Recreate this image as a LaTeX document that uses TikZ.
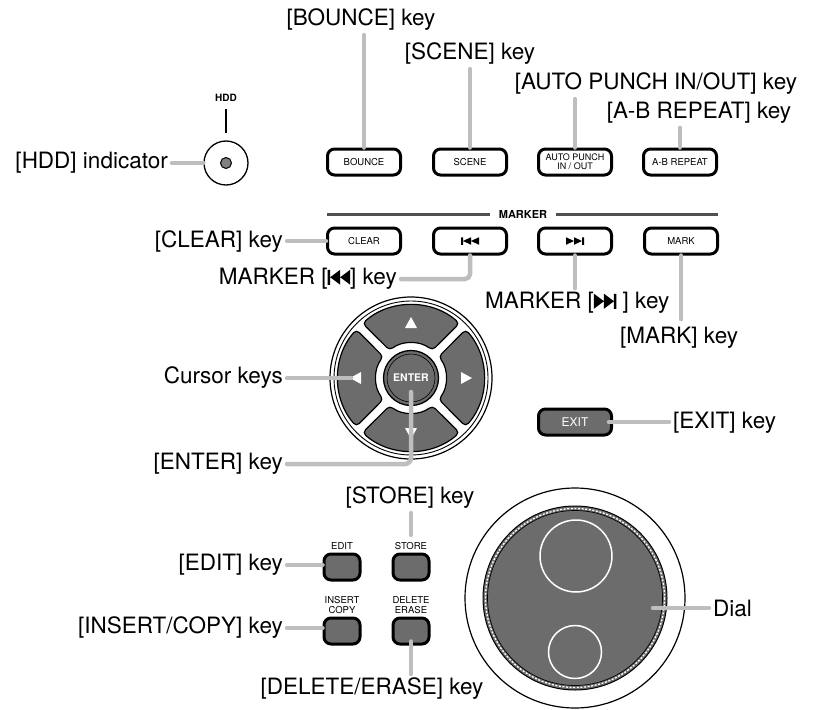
\documentclass[tikz,border=0pt]{standalone}
\usepackage{fontspec}
\setmainfont{TeX Gyre Heros}
\usetikzlibrary{calc}
\definecolor{keygray}{RGB}{108,108,108}
\definecolor{leadgray}{RGB}{190,190,190}
\definecolor{rulegray}{RGB}{80,80,80}

% skip symbols: #1 height, #2 triangle width
\newcommand{\prevglyph}[2]{\tikz[baseline=0pt,x=1pt,y=1pt,sharp corners]{\fill[black] (0,0) rectangle (0.25*#2,#1) (0.25*#2,0.5*#1) -- (1.25*#2,#1) -- (1.25*#2,0) -- cycle (1.25*#2,0.5*#1) -- (2.25*#2,#1) -- (2.25*#2,0) -- cycle;}}
\newcommand{\nextglyph}[2]{\tikz[baseline=0pt,x=1pt,y=1pt,sharp corners]{\fill[black] (0,0) -- (#2,0.5*#1) -- (0,#1) -- cycle (#2,0) -- (2*#2,0.5*#1) -- (#2,#1) -- cycle (2*#2,0) rectangle (2.25*#2,#1);}}

\tikzset{
  lbl/.style={font=\fontsize{22.5}{25}\selectfont, inner sep=4pt},
  keyw/.style={draw, line width=3pt, rounded corners=7pt, fill=white, minimum width=73pt, minimum height=26pt, inner sep=0pt, font=\fontsize{9.5}{9.5}\selectfont, align=center},
  keyd/.style={keyw, fill=keygray, text=white},
  keysm/.style={keyd, minimum width=36pt, minimum height=26pt},
  capt/.style={font=\fontsize{9.5}{10}\selectfont, align=center, inner sep=0pt},
  lead/.style={draw=leadgray, line width=4.5pt, line cap=round},
}

\begin{document}
\begin{tikzpicture}[x=1pt,y=-1pt]
  \useasboundingbox (0,0) rectangle (813,709);

  % HDD indicator
  \node[font=\fontsize{10}{12}\selectfont\bfseries] (hddtxt) at (226,98) {HDD};
  \node[circle, draw, line width=1.3pt, minimum size=44pt, inner sep=0pt] (hdd) at (226,163) {};
  \node[circle, draw, line width=1pt, fill=gray, minimum size=11pt, inner sep=0pt] (hdddot) at (hdd.center) {};
  \draw[line width=1.3pt, shorten <=4pt, shorten >=7pt] (hddtxt.south) -- (hdd.north);
  \node[lbl, anchor=east] (hddlbl) at (172,163) {[HDD] indicator};
  \draw[lead] (hddlbl.east) -- (hdd.west);

  % top row
  \node[keyw] (bounce) at (364,162) {BOUNCE};
  \node[keyw] (scene) at (470,162) {SCENE};
  \node[keyw, font=\fontsize{9}{9}\selectfont] (autopunch) at (575,162) {AUTO PUNCH\\IN / OUT};
  \node[keyw] (abrepeat) at (680,162) {A-B REPEAT};
  \node[lbl] (bouncelbl) at (361,20) {[BOUNCE] key};
  \node[lbl] (scenelbl) at (470,54) {[SCENE] key};
  \node[lbl] (autolbl) at (656,84) {[AUTO PUNCH IN/OUT] key};
  \node[lbl] (ablbl) at (699,113) {[A-B REPEAT] key};
  \draw[lead] (bouncelbl.south -| bounce.north) -- (bounce.north);
  \draw[lead] (scenelbl.south -| scene.north) -- (scene.north);
  \draw[lead] (autolbl.south -| autopunch.north) -- (autopunch.north);
  \draw[lead] (ablbl.south -| abrepeat.north) -- (abrepeat.north);

  % marker row
  \node[font=\fontsize{11}{12}\selectfont\bfseries, inner xsep=9pt] (markertxt) at (523,214) {MARKER};
  \draw[rulegray, line width=3pt] (327,214) -- (markertxt.west) (markertxt.east) -- (718,214);
  \node[keyw] (clear) at (364,241) {CLEAR};
  \node[keyw] (prevmk) at (470,241) {\prevglyph{7.5}{8}};
  \node[keyw] (nextmk) at (575,241) {\nextglyph{7.5}{8}};
  \node[keyw] (mark) at (681,241) {MARK};
  \node[lbl, anchor=east] (clearlbl) at (287,242) {[CLEAR] key};
  \node[lbl, anchor=east] (prevlbl) at (401,279) {MARKER [\prevglyph{15}{10}] key};
  \node[lbl, anchor=west] (nextlbl) at (481,303) {MARKER [\nextglyph{15}{10} ] key};
  \node[lbl, anchor=west] (marklbl) at (616,338) {[MARK] key};
  \draw[lead] (clearlbl.east |- clear.west) -- (clear.west);
  \draw[lead, rounded corners=5pt] (prevlbl.east) -| (prevmk.south);
  \draw[lead] (nextmk.south) -- (nextmk.south |- nextlbl.north);
  \draw[lead, shorten >=4pt] (mark.south) -- (mark.south |- marklbl.north);

  % cursor pad
  \coordinate (pad) at (411,378);
  \draw[line width=1.2pt] (pad) circle[radius=81];
  \draw[line width=0.9pt] (pad) circle[radius=77];
  \begin{scope}[shift={(pad)}, yscale=-1]
    \foreach \a in {0,90,180,270}{
      \draw[line width=1.2pt, fill=keygray, rounded corners=4pt, rotate=\a] (48.5:73) arc[start angle=48.5, end angle=131.5, radius=73] -- (127.6:35) arc[start angle=127.6, end angle=52.4, radius=35] -- cycle;
      \fill[white, rotate=\a] (-6,50) -- (6,50) -- (0,61) -- cycle;
    }
  \end{scope}
  \node[circle, draw, line width=1.3pt, fill=keygray, minimum size=55pt, inner sep=0pt, text=white, font=\fontsize{10.5}{11}\selectfont\bfseries] (enter) at (pad) {ENTER};
  \draw[line width=0.6pt] (pad) circle[radius=24];
  \node[lbl, anchor=east] (cursorlbl) at (287,378) {Cursor keys};
  \coordinate (leftkey) at (351,378);
  \draw[lead] (cursorlbl.east) -- (leftkey);
  \node[lbl, anchor=east] (enterlbl) at (287,464) {[ENTER] key};
  \draw[lead, rounded corners=6pt] (enterlbl.east) -| ([yshift=-14pt]enter.center);

  % exit
  \node[keyd, font=\fontsize{12}{12}\selectfont] (exit) at (575,422) {EXIT};
  \node[lbl, anchor=west] (exitlbl) at (669,423) {[EXIT] key};
  \draw[lead] ([xshift=-4pt]exit.east) -- (exit.east -| exitlbl.west);

  % edit keys
  \node[keysm] (edit) at (342,567) {};
  \node[keysm] (store) at (411,567) {};
  \node[keysm] (inscopy) at (342,631) {};
  \node[keysm] (delerase) at (411,631) {};
  \node[capt, anchor=south] (edittxt) at ([yshift=3pt]edit.north) {EDIT};
  \node[capt, anchor=south] (storetxt) at ([yshift=3pt]store.north) {STORE};
  \node[capt, anchor=south] (instxt) at ([yshift=3pt]inscopy.north) {INSERT\\COPY};
  \node[capt, anchor=south] (deltxt) at ([yshift=3pt]delerase.north) {DELETE\\ERASE};
  \node[lbl] (storelbl) at (410,498) {[STORE] key};
  \node[lbl, anchor=east] (editlbl) at (287,565) {[EDIT] key};
  \node[lbl, anchor=east] (inslbl) at (287,628) {[INSERT/COPY] key};
  \node[lbl] (dellbl) at (372,689) {[DELETE/ERASE] key};
  \draw[lead, shorten >=7pt] (storelbl.south -| storetxt.north) -- (storetxt.north);
  \draw[lead] (editlbl.east) -- (editlbl.east -| edit.west);
  \draw[lead] (inslbl.east) -- (inslbl.east -| inscopy.west);
  \draw[lead] ([yshift=4pt]delerase.south) -- (delerase.south |- dellbl.north);

  % dial
  \coordinate (dialc) at (575,598);
  \draw[line width=1.2pt] (dialc) circle[radius=110];
  \draw[line width=1pt, fill=keygray] (dialc) circle[radius=92];
  \draw[white, line width=1.3pt, dash pattern=on 2pt off 1.6pt] (dialc) circle[radius=89.5];
  \draw[line width=0.7pt] (dialc) circle[radius=87.5];
  \draw[white, line width=1.5pt] (576,556) circle[radius=36];
  \draw[white, line width=1.5pt] (575,652) circle[radius=26.5];
  \node[lbl, anchor=west] (diallbl) at (709,608) {Dial};
  \draw[lead] ([xshift=78pt,yshift=-10pt]dialc) -- (diallbl.west);
\end{tikzpicture}
\end{document}
